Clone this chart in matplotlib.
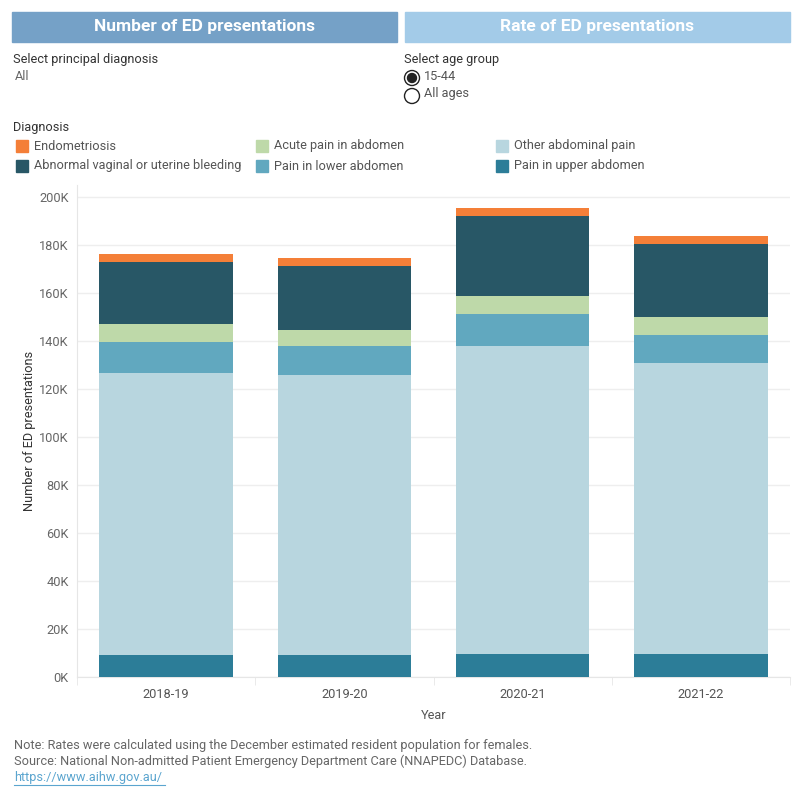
import matplotlib
matplotlib.use("Agg")
import matplotlib.pyplot as plt
from matplotlib.patches import Rectangle, Circle
import numpy as np

plt.rcParams['font.family'] = ['Roboto', 'DejaVu Sans']

years = ["2018-19", "2019-20", "2020-21", "2021-22"]
# values in thousands, stacked bottom to top
upper_abdomen = [9.2, 9.2, 9.6, 9.6]
other_abdominal = [117.5, 116.6, 128.3, 121.2]
lower_abdomen = [12.9, 12.1, 13.4, 11.7]
acute_abdomen = [7.5, 6.7, 7.5, 7.5]
abnormal_bleeding = [25.8, 26.7, 33.3, 30.4]
endometriosis = [3.3, 3.3, 3.3, 3.3]

series = [
    ("Pain in upper abdomen", upper_abdomen, "#2c7d98"),
    ("Other abdominal pain", other_abdominal, "#b8d6df"),
    ("Pain in lower abdomen", lower_abdomen, "#61a8bf"),
    ("Acute pain in abdomen", acute_abdomen, "#bed9a9"),
    ("Abnormal vaginal or uterine bleeding", abnormal_bleeding, "#285766"),
    ("Endometriosis", endometriosis, "#f47f38"),
]
colors = {n: c for n, _, c in series}

fig = plt.figure(figsize=(8, 8), dpi=100)

ov = fig.add_axes([0, 0, 1, 1])
ov.set_xlim(0, 800)
ov.set_ylim(800, 0)
ov.axis("off")

FS = 9.2
ov.add_patch(Rectangle((12, 12), 385, 30, color="#75a1c7"))
ov.add_patch(Rectangle((405, 12), 385, 30, color="#a3cbe8"))
ov.text(204, 27, "Number of ED presentations", color="white", fontsize=12.5,
        fontweight="bold", ha="center", va="center")
ov.text(597, 27, "Rate of ED presentations", color="white", fontsize=12.5,
        fontweight="bold", ha="center", va="center")

ov.text(13, 60, "Select principal diagnosis", color="#333333", fontsize=FS, va="center")
ov.text(15, 76, "All", color="#666666", fontsize=FS, va="center")
ov.text(404, 60, "Select age group", color="#333333", fontsize=FS, va="center")
ov.add_patch(Circle((412, 78), 7.5, fill=False, ec="#222222", lw=1))
ov.add_patch(Circle((412, 78), 4.5, color="#222222"))
ov.add_patch(Circle((412, 96), 7.5, fill=False, ec="#222222", lw=1))
ov.text(424, 77, "15-44", color="#555555", fontsize=FS, va="center")
ov.text(424, 94, "All ages", color="#555555", fontsize=FS, va="center")

ov.text(13, 128, "Diagnosis", color="#333333", fontsize=FS, va="center")
legend_layout = [
    ("Endometriosis", 16, 140), ("Acute pain in abdomen", 256, 140), ("Other abdominal pain", 496, 140),
    ("Abnormal vaginal or uterine bleeding", 16, 160), ("Pain in lower abdomen", 256, 160),
    ("Pain in upper abdomen", 496, 160),
]
for name, x, y in legend_layout:
    ov.add_patch(Rectangle((x, y), 12, 12, color=colors[name]))
    ov.text(x + 18, y + 6, name, color="#555555", fontsize=FS, va="center")

ov.text(14, 745, "Note: Rates were calculated using the December estimated resident population for females.",
        color="#666666", fontsize=FS, va="center")
ov.text(14, 761, "Source: National Non-admitted Patient Emergency Department Care (NNAPEDC) Database.",
        color="#666666", fontsize=FS, va="center")
ov.text(14, 778, "https://www.aihw.gov.au/", color="#5ba5cf", fontsize=FS, va="center")
ov.plot([14, 165], [785, 785], color="#5ba5cf", lw=0.8)

ax = fig.add_axes([77 / 800, 1 - 677 / 800, 713 / 800, (677 - 185) / 800])
x = np.arange(len(years))
bottom = np.zeros(len(years))
for name, vals, c in series:
    v = np.array(vals)
    ax.bar(x, v, 0.75, bottom=bottom, color=c, label=name, zorder=3)
    bottom += v

ax.set_xlim(-0.5, 3.5)
ax.set_ylim(0, 205)
ax.set_yticks(np.arange(0, 201, 20))
ax.set_yticklabels([f"{int(t)}K" for t in np.arange(0, 201, 20)])
ax.set_xticks(x)
ax.set_xticklabels(years)
ax.set_xticks(np.arange(-0.5, 3.6, 1), minor=True)
ax.tick_params(axis="x", which="major", length=0, pad=8, labelsize=FS, labelcolor="#555555")
ax.tick_params(axis="x", which="minor", length=6, color="#e6e6e6")
ax.tick_params(axis="y", length=0, labelsize=FS, labelcolor="#666666", pad=6)
ax.grid(axis="y", color="#eeeeee", lw=1, zorder=0)
for s in ["top", "right"]:
    ax.spines[s].set_visible(False)
ax.spines["left"].set_color("#e6e6e6")
ax.spines["bottom"].set_color("#e6e6e6")
ax.set_ylabel("Number of ED presentations", fontsize=FS, color="#333333", labelpad=2)
ax.set_xlabel("Year", fontsize=FS, color="#555555", labelpad=6)

fig.savefig("out.png", dpi=100)
